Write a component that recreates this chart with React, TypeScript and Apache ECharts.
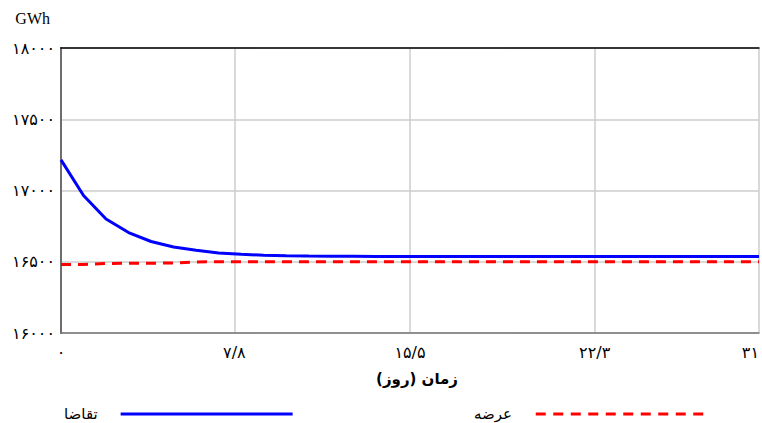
import React, { useEffect, useRef } from "react";
import * as echarts from "echarts";

const days = Array.from({ length: 32 }, (_, i) => i);
const demand = [
  17215, 16965, 16800, 16705, 16642, 16603, 16580, 16562, 16552, 16546, 16542,
  16540, 16539, 16538, 16537, 16537, 16537, 16537, 16537, 16537, 16537, 16537,
  16537, 16537, 16537, 16537, 16537, 16537, 16537, 16537, 16537, 16537,
];
const supply = [
  16480, 16481, 16488, 16489, 16490, 16491, 16499, 16500, 16500, 16500, 16500,
  16500, 16500, 16500, 16500, 16500, 16500, 16500, 16500, 16500, 16500, 16500,
  16500, 16500, 16500, 16500, 16500, 16500, 16500, 16500, 16500, 16500,
];
const xTickValues = [0, 7.7, 15.5, 23.7, 31];
const xTickLabels = ["۰", "۷/۸", "۱۵/۵", "۲۲/۳", "۳۱"];
const seriesNames = ["تقاضا", "عرضه"];
const xAxisTitle = "زمان (روز)";
const yAxisTitle = "GWh";

const toPersian = (s: string) =>
  s.replace(/[0-9]/g, (d) => "۰۱۲۳۴۵۶۷۸۹"[Number(d)]);

const FA = "'DejaVu Sans', sans-serif";

// dashed legend icon path (10 on, 7.5 off)
const dashIcon = (() => {
  let d = "path://";
  for (let x = 0; x < 175; x += 17.5) {
    const w = Math.min(10, 175 - x);
    d += `M${x},0h${w}v3h-${w}z`;
  }
  return d;
})();

export default function App() {
  const ref = useRef<HTMLDivElement>(null);
  useEffect(() => {
    document.body.style.margin = "0";
    if (!ref.current) return;
    const chart = echarts.init(ref.current, null, { renderer: "svg" });
    const demandData = days.map((d, i) => [d, demand[i]]);
    const supplyData = days.map((d, i) => [d, supply[i]]);
    chart.setOption({
      animation: false,
      backgroundColor: "#ffffff",
      grid: { left: 61, right: 1, top: 48, bottom: 90, containLabel: false },
      legend: [
        {
          left: 59,
          top: 400,
          align: "right",
          itemWidth: 172,
          itemHeight: 3,
          icon: "rect",
          data: [seriesNames[0]],
          textStyle: {
            fontFamily: FA,
            fontSize: 15,
            lineHeight: 18,
            color: "#000",
            padding: [0, 18, 0, 0],
          },
        },
        {
          left: 469,
          top: 400,
          align: "right",
          itemWidth: 175,
          itemHeight: 3,
          icon: dashIcon,
          data: [seriesNames[1]],
          textStyle: {
            fontFamily: FA,
            fontSize: 15,
            lineHeight: 18,
            color: "#000",
            padding: [0, 15, 0, 0],
          },
        },
      ],
      xAxis: [
        {
          type: "value",
          min: 0,
          max: 31,
          name: xAxisTitle,
          nameLocation: "middle",
          nameGap: 38,
          nameTextStyle: {
            fontFamily: FA,
            fontSize: 15,
            fontWeight: "bold",
            color: "#000",
            padding: [0, 0, 0, 14],
          },
          axisLine: { show: true, lineStyle: { color: "#777", width: 1.5 } },
          axisTick: { show: false, customValues: xTickValues },
          splitLine: { show: true, lineStyle: { color: "#cccccc", width: 1.5 } },
          axisLabel: {
            customValues: xTickValues,
            margin: 11,
            fontFamily: FA,
            fontSize: 16,
            color: "#000",
            alignMaxLabel: "right",
            formatter: (v: number) => {
              let best = 0;
              xTickValues.forEach((t, i) => {
                if (Math.abs(t - v) < Math.abs(xTickValues[best] - v)) best = i;
              });
              return xTickLabels[best];
            },
          },
        },
        {
          type: "value",
          position: "top",
          min: 0,
          max: 31,
          axisLine: { show: true, lineStyle: { color: "#000", width: 1.5 } },
          axisTick: { show: false },
          axisLabel: { show: false },
          splitLine: { show: false },
        },
      ],
      yAxis: [
        {
          type: "value",
          min: 16000,
          max: 18000,
          interval: 500,
          name: yAxisTitle,
          nameLocation: "end",
          nameGap: 22,
          nameTextStyle: {
            fontFamily: "'Liberation Serif', serif",
            fontSize: 16,
            color: "#000",
            align: "right",
            padding: [0, 11, 0, 0],
          },
          axisLine: { show: true, lineStyle: { color: "#555", width: 2 } },
          axisTick: { show: false },
          splitLine: { show: true, lineStyle: { color: "#cccccc", width: 1.5 } },
          axisLabel: {
            margin: 6,
            fontFamily: FA,
            fontSize: 16,
            color: "#000",
            formatter: (v: number) => toPersian(String(v)),
          },
        },
        {
          type: "value",
          position: "right",
          min: 16000,
          max: 18000,
          axisLine: { show: true, lineStyle: { color: "#777", width: 1.5 } },
          axisTick: { show: false },
          axisLabel: { show: false },
          splitLine: { show: false },
        },
      ],
      series: [
        {
          name: seriesNames[0],
          type: "line",
          data: demandData,
          symbol: "none",
          lineStyle: { color: "#0000ff", width: 3 },
          itemStyle: { color: "#0000ff" },
          z: 3,
        },
        {
          name: seriesNames[1],
          type: "line",
          data: supplyData,
          symbol: "none",
          lineStyle: { color: "#ff0000", width: 3, type: [10, 7] },
          itemStyle: { color: "#ff0000" },
          z: 4,
        },
      ],
    });
    return () => chart.dispose();
  }, []);
  return <div ref={ref} style={{ width: 762, height: 423 }} />;
}
